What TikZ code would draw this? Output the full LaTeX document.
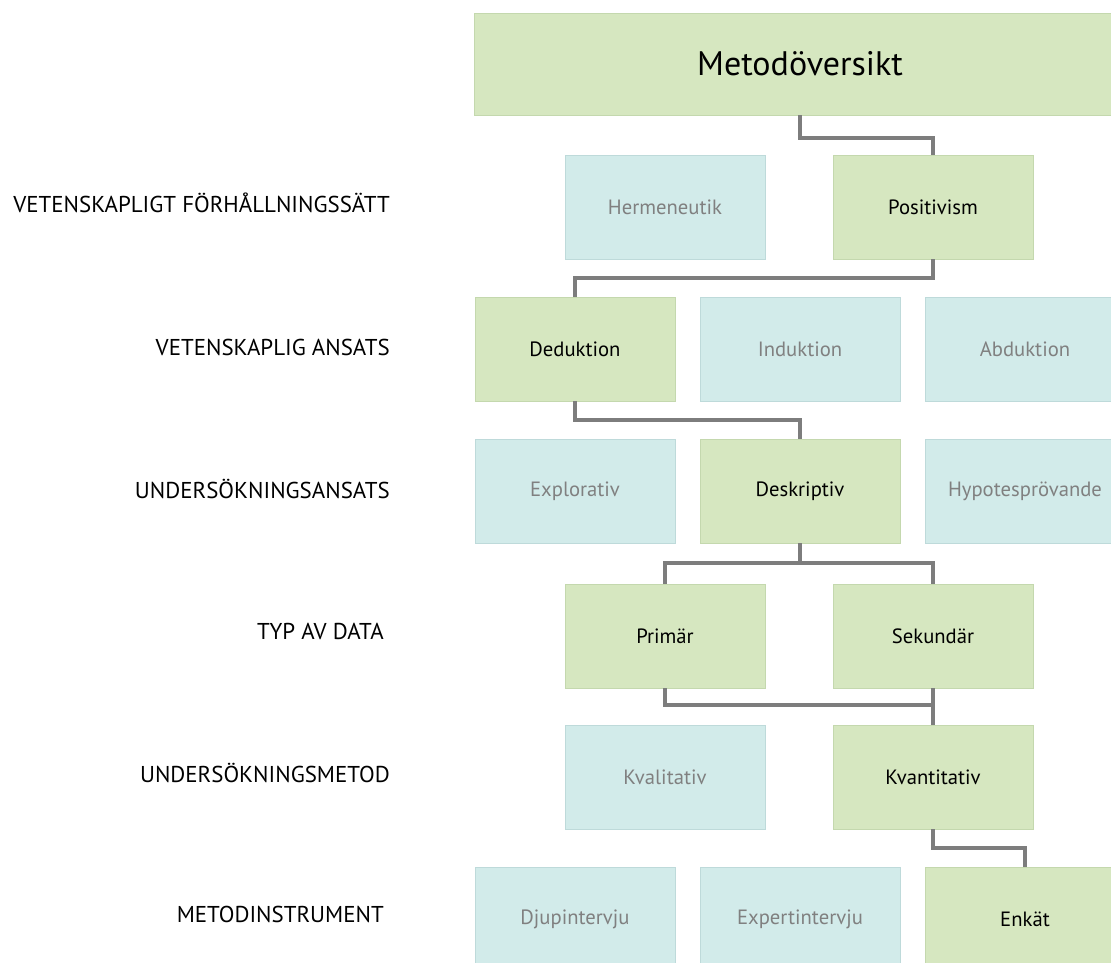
\documentclass[tikz,border=0pt]{standalone}
\usepackage{fontspec}
\setmainfont{PT Sans}
\usetikzlibrary{positioning}

\definecolor{chosenfill}{RGB}{214,231,192}
\definecolor{chosenline}{RGB}{196,216,174}
\definecolor{otherfill}{RGB}{210,235,234}
\definecolor{otherline}{RGB}{190,218,218}
\definecolor{othertext}{RGB}{128,128,128}
\definecolor{linkgray}{RGB}{125,125,125}

\begin{document}
\begin{tikzpicture}[x=0.75pt,y=-0.75pt,
	chosen/.style={draw=chosenline,fill=chosenfill,minimum width=150pt,minimum height=78pt,inner sep=0pt,font=\fontsize{15.5}{18}\selectfont,text=black},
	other/.style={draw=otherline,fill=otherfill,minimum width=150pt,minimum height=78pt,inner sep=0pt,font=\fontsize{15.5}{18}\selectfont,text=othertext},
	level/.style={anchor=east,inner sep=0pt,font=\fontsize{17.2}{20}\selectfont},
	link/.style={draw=linkgray,line width=3pt}]
	\useasboundingbox[fill=white] (0,0) rectangle (1111,963);

	\node[chosen,minimum width=489pt,minimum height=76.5pt,font=\fontsize{25.5}{30}\selectfont] (title) at (800,64) {Metodöversikt};

	% levels
	\node[level] (lev1) at (390,203) {VETENSKAPLIGT FÖRHÅLLNINGSSÄTT};
	\node[level] (lev2) at (390,347) {VETENSKAPLIG ANSATS};
	\node[level] (lev3) at (390,489) {UNDERSÖKNINGSANSATS};
	\node[level] (lev4) at (384,631) {TYP AV DATA};
	\node[level] (lev5) at (390,773) {UNDERSÖKNINGSMETOD};
	\node[level] (lev6) at (384,914) {METODINSTRUMENT};

	\node[other] (herm) at (665,207) {Hermeneutik};
	\node[chosen] (pos) at (933,207) {Positivism};

	\node[chosen] (ded) at (575,349) {Deduktion};
	\node[other] (ind) at (800,349) {Induktion};
	\node[other] (abd) at (1025,349) {Abduktion};

	\node[other] (expl) at (575,491) {Explorativ};
	\node[chosen] (desk) at (800,491) {Deskriptiv};
	\node[other] (hyp) at (1025,491) {Hypotesprövande};

	\node[chosen] (prim) at (665,636) {Primär};
	\node[chosen] (sek) at (933,636) {Sekundär};

	\node[other] (kval) at (665,777) {Kvalitativ};
	\node[chosen] (kvant) at (933,777) {Kvantitativ};

	\node[other] (djup) at (575,919) {Djupintervju};
	\node[other] (expert) at (800,919) {Expertintervju};
	\node[chosen] (enk) at (1025,919) {Enkät};

	% path through the chosen boxes
	\draw[link] (title.south) -- ++(0,23) -| (pos.north);
	\draw[link] (pos.south) -- ++(0,19) -| (ded.north);
	\draw[link] (ded.south) -- ++(0,19) -| (desk.north);
	\draw[link] (desk.south) -- ++(0,20) coordinate (fork);
	\draw[link] (prim.north) |- (fork) -| (sek.north);
	\draw[link] (prim.south) -- ++(0,17) -| (kvant.north);
	\draw[link] (sek.south) -- (kvant.north);
	\draw[link] (kvant.south) -- ++(0,19) -| (enk.north);
\end{tikzpicture}
\end{document}
